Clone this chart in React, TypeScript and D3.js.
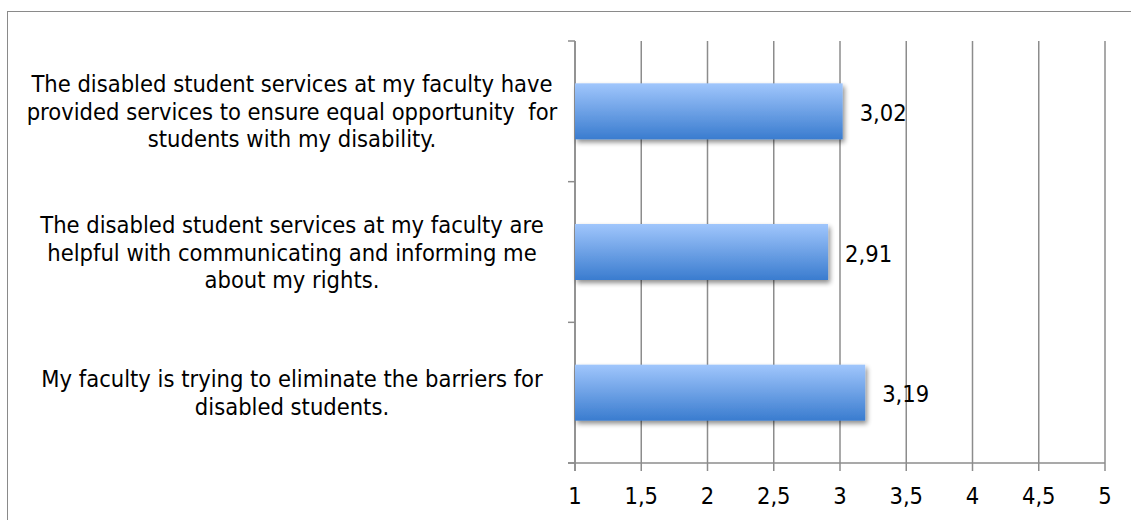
import React from "react";
import * as d3 from "d3";

const categories = [
  ["The disabled student services at my faculty have", "provided services to ensure equal opportunity  for", "students with my disability."],
  ["The disabled student services at my faculty are", "helpful with communicating and informing me", "about my rights."],
  ["My faculty is trying to eliminate the barriers for", "disabled students."],
];
const values = [3.02, 2.91, 3.19];
const valueLabels = ["3,02", "2,91", "3,19"];
const xTicks = [1, 1.5, 2, 2.5, 3, 3.5, 4, 4.5, 5];
const xTickLabels = ["1", "1,5", "2", "2,5", "3", "3,5", "4", "4,5", "5"];

export default function App() {
  const W = 1131, H = 520;
  const x = d3.scaleLinear().domain([1, 5]).range([575, 1105]);
  const y = d3.scaleBand().domain(d3.range(categories.length).map(String)).range([41, 463]);
  const font = "'DejaVu Sans Condensed', Tahoma, 'DejaVu Sans', sans-serif";
  const fs = 23.5;
  return (
    <svg width={W} height={H} style={{ position: "absolute", left: 0, top: 0, background: "#fff" }}>
      <defs>
        <linearGradient id="bg" x1="0" y1="0" x2="0" y2="1">
          <stop offset="0" stopColor="#a0c6fc" />
          <stop offset="1" stopColor="#3a7ccf" />
        </linearGradient>
        <filter id="sh" x="-5%" y="-20%" width="110%" height="150%">
          <feGaussianBlur in="SourceAlpha" stdDeviation="2.5" />
          <feOffset dx="2" dy="3" result="b" />
          <feComponentTransfer><feFuncA type="linear" slope="0.45" /></feComponentTransfer>
          <feMerge><feMergeNode /><feMergeNode in="SourceGraphic" /></feMerge>
        </filter>
      </defs>
      <rect x={7.5} y={11.5} width={1130} height={520} fill="none" stroke="#8a8a8a" strokeWidth={1} />
      {xTicks.map((t) => (
        <line key={t} x1={x(t)} x2={x(t)} y1={41} y2={471} stroke="#8c8c8c" strokeWidth={1.5} />
      ))}
      <line x1={575} x2={575} y1={41} y2={471} stroke="#8c8c8c" strokeWidth={1.5} />
      <line x1={568} x2={1105} y1={463} y2={463} stroke="#8c8c8c" strokeWidth={1.5} />
      {d3.range(categories.length + 1).map((i) => {
        const yy = 41 + i * y.step();
        return <line key={i} x1={568} x2={575} y1={yy} y2={yy} stroke="#8c8c8c" strokeWidth={1.5} />;
      })}
      {values.map((v, i) => {
        const yc = (y(String(i)) as number) + y.bandwidth() / 2;
        const bh = 56;
        const n = categories[i].length;
        return (
          <g key={i}>
            <rect x={x(1)} y={yc - bh / 2} width={x(v) - x(1)} height={bh} fill="url(#bg)" filter="url(#sh)" />
            <text x={x(v) + 17} y={yc + 9.5} fontFamily={font} fontSize={fs} fill="#000">{valueLabels[i]}</text>
            <text textAnchor="middle" fontFamily={font} fontSize={fs} fill="#000">
              {categories[i].map((line, j) => (
                <tspan key={j} x={292} y={yc + 8.5 + (j - (n - 1) / 2) * 27.5} style={{ whiteSpace: "pre" }}>{line}</tspan>
              ))}
            </text>
          </g>
        );
      })}
      {xTicks.map((t, i) => (
        <text key={t} x={x(t)} y={503.5} textAnchor="middle" fontFamily={font} fontSize={fs} fill="#000">{xTickLabels[i]}</text>
      ))}
    </svg>
  );
}
